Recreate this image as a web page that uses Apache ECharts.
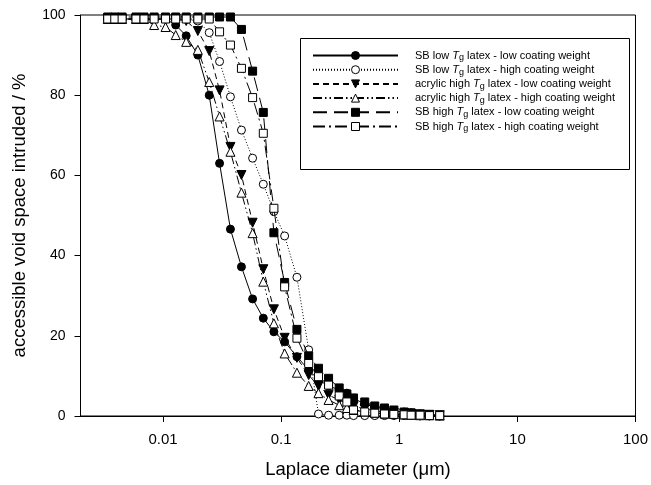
<!DOCTYPE html>
<html>
<head>
<meta charset="utf-8">
<script src="https://cdn.jsdelivr.net/npm/echarts@6/dist/echarts.min.js"></script>
<style>
  html, body { margin: 0; padding: 0; background: #fff; }
  #chart { width: 651px; height: 485px; }
</style>
</head>
<body>
<div id="chart"></div>
<script>
// Laplace diameter (um), shared by all samples
const diameter = [0.0034, 0.0039, 0.0045, 0.0059, 0.0069, 0.0084, 0.0105, 0.0128,
  0.0157, 0.0197, 0.0246, 0.0301, 0.0372, 0.0461, 0.0573, 0.0706, 0.0868, 0.107,
  0.136, 0.171, 0.207, 0.252, 0.31, 0.36, 0.41, 0.51, 0.62, 0.75, 0.9, 1.1, 1.26,
  1.5, 1.8, 2.2];

// accessible void space intruded (%)
const sbLowTgLow = [99, 99, 99, 99, 99, 99, 99, 97.5, 94.8, 90, 80, 63, 46.6, 37.2,
  29.2, 24.4, 21, 18.5, 14.8, 11.5, 9, 7.5, 6.5, 5.7, 4.4, 3, 2.2, 1.8, 1.3, 1, 0.8,
  0.5, 0.3, 0.1];
const sbLowTgHigh = [99, 99, 99, 99, 99, 99, 99, 99, 99, 98.5, 95.6, 88.4, 79.6, 71.3,
  64.3, 57.8, 51, 44.9, 34.6, 16.5, 0.5, 0.2, 0.2, 0.2, 0.1, 0.1, 0.1, 0.1, 0.1, 0.1,
  0.1, 0, 0, 0];
const acrylicLow = [99, 99, 99, 99, 99, 99, 99, 99, 98.5, 96, 91, 81.2, 67.1, 60.1,
  48.2, 36.6, 26.6, 19.5, 14.5, 10.2, 7.5, 5.2, 4, 3, 2.4, 1.8, 1.3, 1, 0.8, 0.6, 0.5,
  0.4, 0.3, 0.2];
const acrylicHigh = [99, 99, 99, 99, 99, 97.5, 97, 95, 93.3, 91.3, 83.3, 74.7, 65.9,
  55.7, 45.6, 33.5, 23.1, 15.6, 10.8, 7.5, 5.7, 4, 2.7, 2, 1.5, 1.1, 0.8, 0.6, 0.5,
  0.4, 0.3, 0.2, 0.2, 0.1];
const sbHighTgLow = [99.5, 99.5, 99.5, 99.5, 99.5, 99.5, 99.5, 99.5, 99.5, 99.5, 99.5,
  99.5, 99.5, 96.4, 86, 75.7, 45.7, 33.3, 21.6, 15, 11.9, 9.4, 7, 5.5, 4.5, 3.5, 2.5,
  2, 1.5, 1, 0.8, 0.5, 0.3, 0.2];
const sbHighTgHigh = [99, 99, 99, 99, 99, 99, 99, 99, 99, 99, 99, 95.8, 92.5, 86.7,
  79.4, 70.5, 51.8, 32.2, 19.4, 13.1, 9.8, 7.7, 5, 3.5, 1.5, 1, 0.7, 0.5, 0.4, 0.3,
  0.2, 0.2, 0.1, 0.1];

const names = [
  'SB low Tg latex - low coating weight',
  'SB low Tg latex - high coating weight',
  'acrylic high Tg latex - low coating weight',
  'acrylic high Tg latex - high coating weight',
  'SB high Tg latex - low coating weight',
  'SB high Tg latex - high coating weight'
];
const values = [sbLowTgLow, sbLowTgHigh, acrylicLow, acrylicHigh, sbHighTgLow, sbHighTgHigh];
const symbols = ['circle', 'circle', 'triangle', 'triangle', 'rect', 'rect'];
const filled = [true, false, true, false, true, false];
const dashes = ['solid', [1, 2], [6, 4], [9, 3, 1.5, 3, 1.5, 3], [14, 7], [12, 4, 2, 4]];

const font = 'Liberation Sans, Arial, sans-serif';

const series = names.map(function (name, k) {
  return {
    name: name,
    type: 'line',
    data: diameter.map(function (d, i) { return [d, values[k][i]]; }),
    symbol: symbols[k],
    symbolSize: symbols[k] === 'triangle' ? 9 : 8,
    symbolRotate: k === 2 ? 180 : 0,
    showAllSymbol: true,
    lineStyle: { color: '#000', width: 1, type: dashes[k] },
    itemStyle: {
      color: filled[k] ? '#000' : '#fff',
      borderColor: '#000',
      borderWidth: 1
    },
    emphasis: { disabled: true },
    z: 2 + k * 0.1
  };
});

const chart = echarts.init(document.getElementById('chart'));
chart.setOption({
  animation: false,
  backgroundColor: '#fff',
  textStyle: { fontFamily: font, color: '#000' },
  grid: {
    left: 80.5, right: 14, top: 15, bottom: 69,
    show: true, borderColor: '#000', borderWidth: 1
  },
  xAxis: {
    type: 'log',
    logBase: 10,
    min: 0.002,
    max: 100,
    name: 'Laplace diameter (μm)',
    nameLocation: 'middle',
    nameGap: 44,
    nameTextStyle: { fontSize: 18.5, fontFamily: font, color: '#000' },
    axisLine: { lineStyle: { color: '#000', width: 1 } },
    axisTick: { length: 6, lineStyle: { color: '#000' } },
    minorTick: { show: false },
    splitLine: { show: false },
    axisLabel: {
      fontSize: 15, color: '#000', margin: 16, fontFamily: font,
      showMinLabel: false,
      formatter: function (v) {
        const e = Math.log10(v);
        if (Math.abs(e - Math.round(e)) > 1e-6) return '';
        return String(parseFloat(Math.pow(10, Math.round(e)).toPrecision(1)));
      }
    }
  },
  yAxis: {
    type: 'value',
    min: 0,
    max: 100,
    interval: 20,
    name: 'accessible void space intruded / %',
    nameLocation: 'middle',
    nameGap: 51,
    nameTextStyle: { fontSize: 18.5, fontFamily: font, color: '#000' },
    axisLine: { show: true, lineStyle: { color: '#000', width: 1 } },
    axisTick: { show: true, length: 6, lineStyle: { color: '#000' } },
    splitLine: { show: false },
    axisLabel: { fontSize: 14, color: '#000', margin: 15, fontFamily: font }
  },
  graphic: [{
    type: 'rect',
    z: 3,
    shape: { x: 300.5, y: 38.5, width: 329, height: 131 },
    style: { fill: '#fff', stroke: '#000', lineWidth: 1 }
  }],
  legend: {
    orient: 'vertical',
    left: 312,
    top: 50,
    padding: 0,
    itemGap: 1.7,
    itemWidth: 85,
    itemHeight: 10,
    z: 4,
    selectedMode: false,
    itemStyle: { borderWidth: 1, borderColor: '#000' },
    data: names,
    formatter: function (name) {
      const parts = name.split('Tg');
      return '{n|' + parts[0] + '}{i|T}{s|g}{n|' + parts[1] + '}';
    },
    textStyle: {
      padding: [0, 0, 0, 12],
      color: '#000',
      fontFamily: font,
      rich: {
        n: { fontSize: 11, lineHeight: 14, fontFamily: font, color: '#000' },
        i: { fontSize: 11, lineHeight: 14, fontStyle: 'italic', fontFamily: font, color: '#000' },
        s: { fontSize: 9, lineHeight: 5, verticalAlign: 'bottom', fontFamily: font, color: '#000' }
      }
    }
  },
  series: series
});
</script>
</body>
</html>
